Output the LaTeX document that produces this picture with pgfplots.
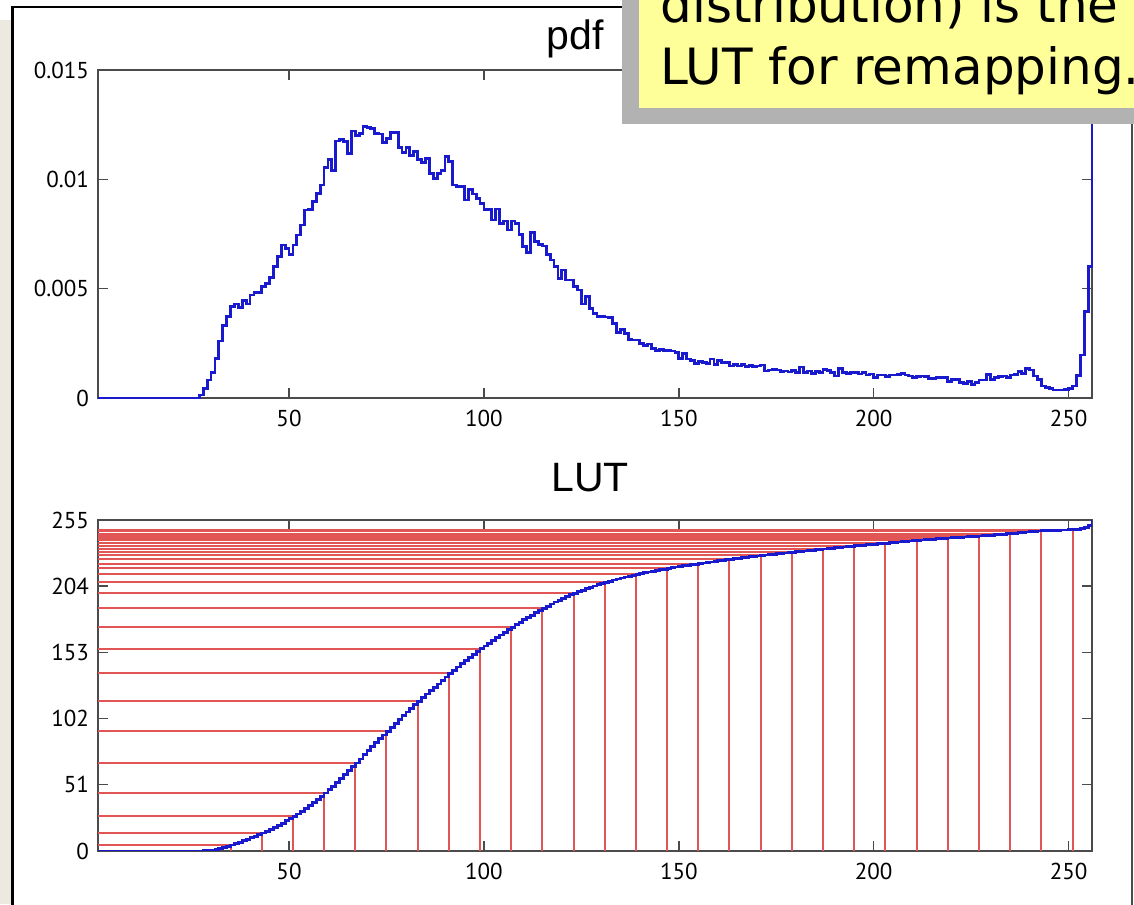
\documentclass[border=0pt]{standalone}
\usepackage{fontspec}
\setmainfont{PT Sans}
\newfontfamily\titlefont{Liberation Sans}
\newfontfamily\callfont{DejaVu Sans}
\newfontfamily\tickfam{PT Sans}
\usepackage{pgfplots}
\pgfplotsset{compat=1.18}
\usepackage{pgfplotstable}
\definecolor{histblue}{RGB}{25,25,205}
\definecolor{lutred}{RGB}{225,85,85}
\definecolor{slidebg}{RGB}{236,233,224}
\definecolor{callyellow}{RGB}{255,255,153}
\definecolor{shadowgray}{RGB}{178,178,178}
\definecolor{axgray}{RGB}{75,75,75}

\pgfplotstableread[row sep=\\]{
x pdf lut\\
1 0 0\\ 2 0 0\\ 3 0 0\\ 4 0 0\\ 5 0 0\\ 6 0 0\\ 7 0 0\\ 8 0 0\\ 9 0 0\\ 10 0 0\\
11 0 0\\ 12 0 0\\ 13 0 0\\ 14 0 0\\ 15 0 0\\ 16 0 0\\ 17 0 0\\ 18 0 0\\ 19 0 0\\ 20 0 0\\
21 0 0\\ 22 0 0\\ 23 0 0\\ 24 0 0\\ 25 0 0\\ 26 0 0\\
27 0.00014 0.04\\ 28 0.00044 0.15\\ 29 0.00082 0.35\\ 30 0.00117 0.65\\
31 0.00181 1.11\\ 32 0.00261 1.76\\ 33 0.00331 2.60\\ 34 0.00372 3.54\\ 35 0.00418 4.60\\
36 0.00430 5.68\\ 37 0.00415 6.73\\ 38 0.00445 7.85\\ 39 0.00430 8.94\\ 40 0.00471 10.13\\
41 0.00483 11.35\\ 42 0.00482 12.56\\ 43 0.00509 13.85\\ 44 0.00524 15.17\\ 45 0.00550 16.56\\
46 0.00600 18.08\\ 47 0.00646 19.71\\ 48 0.00700 21.48\\ 49 0.00684 23.20\\ 50 0.00658 24.86\\
51 0.00700 26.63\\ 52 0.00745 28.51\\ 53 0.00791 30.51\\ 54 0.00860 32.68\\ 55 0.00863 34.86\\
56 0.00898 37.13\\ 57 0.00936 39.49\\ 58 0.00974 41.95\\ 59 0.01055 44.61\\ 60 0.01091 47.37\\
61 0.01039 49.99\\ 62 0.01175 52.96\\ 63 0.01183 55.95\\ 64 0.01173 58.91\\ 65 0.01119 61.73\\
66 0.01221 64.82\\ 67 0.01202 67.85\\ 68 0.01210 70.91\\ 69 0.01240 74.04\\ 70 0.01236 77.16\\
71 0.01233 80.27\\ 72 0.01210 83.33\\ 73 0.01207 86.38\\ 74 0.01167 89.32\\ 75 0.01187 92.32\\
76 0.01215 95.39\\ 77 0.01215 98.45\\ 78 0.01146 101.35\\ 79 0.01123 104.18\\ 80 0.01146 107.08\\
81 0.01108 109.88\\ 82 0.01127 112.72\\ 83 0.01089 115.47\\ 84 0.01077 118.19\\ 85 0.01097 120.96\\
86 0.01027 123.55\\ 87 0.01004 126.09\\ 88 0.01027 128.68\\ 89 0.01039 131.31\\ 90 0.01103 134.09\\
91 0.01081 136.82\\ 92 0.00974 139.28\\ 93 0.00966 141.72\\ 94 0.00969 144.16\\ 95 0.00905 146.45\\
96 0.00954 148.86\\ 97 0.00933 151.21\\ 98 0.00913 153.52\\ 99 0.00890 155.77\\ 100 0.00863 157.95\\
101 0.00863 160.13\\ 102 0.00814 162.18\\ 103 0.00864 164.36\\ 104 0.00799 166.38\\ 105 0.00809 168.42\\
106 0.00768 170.36\\ 107 0.00809 172.40\\ 108 0.00799 174.42\\ 109 0.00748 176.31\\ 110 0.00692 178.06\\
111 0.00664 179.73\\ 112 0.00756 181.64\\ 113 0.00715 183.45\\ 114 0.00703 185.22\\ 115 0.00695 186.98\\
116 0.00658 188.64\\ 117 0.00631 190.23\\ 118 0.00601 191.75\\ 119 0.00547 193.13\\ 120 0.00585 194.61\\
121 0.00540 195.97\\ 122 0.00540 197.34\\ 123 0.00509 198.62\\ 124 0.00494 199.87\\ 125 0.00430 200.95\\
126 0.00463 202.12\\ 127 0.00410 203.16\\ 128 0.00387 204.14\\ 129 0.00372 205.08\\ 130 0.00372 206.02\\
131 0.00370 206.95\\ 132 0.00368 207.88\\ 133 0.00341 208.74\\ 134 0.00299 209.49\\ 135 0.00314 210.29\\
136 0.00296 211.03\\ 137 0.00268 211.71\\ 138 0.00265 212.38\\ 139 0.00265 213.05\\ 140 0.00250 213.68\\
141 0.00239 214.28\\ 142 0.00247 214.91\\ 143 0.00227 215.48\\ 144 0.00219 216.03\\ 145 0.00223 216.60\\
146 0.00216 217.14\\ 147 0.00216 217.69\\ 148 0.00215 218.23\\ 149 0.00209 218.76\\ 150 0.00181 219.22\\
151 0.00204 219.73\\ 152 0.00178 220.18\\ 153 0.00171 220.61\\ 154 0.00159 221.01\\ 155 0.00166 221.43\\
156 0.00162 221.84\\ 157 0.00159 222.24\\ 158 0.00178 222.69\\ 159 0.00154 223.08\\ 160 0.00171 223.51\\
161 0.00162 223.92\\ 162 0.00162 224.33\\ 163 0.00146 224.70\\ 164 0.00154 225.09\\ 165 0.00146 225.46\\
166 0.00154 225.85\\ 167 0.00143 226.21\\ 168 0.00149 226.58\\ 169 0.00143 226.94\\ 170 0.00146 227.31\\
171 0.00151 227.69\\ 172 0.00123 228.00\\ 173 0.00128 228.33\\ 174 0.00131 228.66\\ 175 0.00128 228.98\\
176 0.00120 229.29\\ 177 0.00123 229.60\\ 178 0.00119 229.90\\ 179 0.00125 230.21\\ 180 0.00116 230.50\\
181 0.00142 230.86\\ 182 0.00116 231.16\\ 183 0.00123 231.47\\ 184 0.00113 231.75\\ 185 0.00120 232.06\\
186 0.00116 232.35\\ 187 0.00131 232.68\\ 188 0.00125 232.99\\ 189 0.00117 233.29\\ 190 0.00101 233.54\\
191 0.00134 233.88\\ 192 0.00116 234.18\\ 193 0.00113 234.46\\ 194 0.00116 234.75\\ 195 0.00117 235.05\\
196 0.00110 235.33\\ 197 0.00116 235.62\\ 198 0.00105 235.89\\ 199 0.00110 236.16\\ 200 0.00093 236.40\\
201 0.00105 236.66\\ 202 0.00105 236.93\\ 203 0.00098 237.18\\ 204 0.00105 237.44\\ 205 0.00105 237.71\\
206 0.00108 237.98\\ 207 0.00113 238.26\\ 208 0.00105 238.53\\ 209 0.00101 238.78\\ 210 0.00093 239.02\\
211 0.00098 239.27\\ 212 0.00101 239.52\\ 213 0.00098 239.77\\ 214 0.00090 240.00\\ 215 0.00090 240.22\\
216 0.00092 240.46\\ 217 0.00095 240.70\\ 218 0.00095 240.94\\ 219 0.00075 241.12\\ 220 0.00085 241.34\\
221 0.00085 241.55\\ 222 0.00070 241.73\\ 223 0.00067 241.90\\ 224 0.00075 242.09\\ 225 0.00062 242.25\\
226 0.00070 242.42\\ 227 0.00082 242.63\\ 228 0.00082 242.84\\ 229 0.00108 243.11\\ 230 0.00085 243.32\\
231 0.00095 243.56\\ 232 0.00098 243.81\\ 233 0.00101 244.07\\ 234 0.00095 244.31\\ 235 0.00105 244.57\\
236 0.00108 244.84\\ 237 0.00120 245.15\\ 238 0.00113 245.43\\ 239 0.00136 245.78\\ 240 0.00128 246.10\\
241 0.00101 246.35\\ 242 0.00085 246.57\\ 243 0.00055 246.71\\ 244 0.00049 246.83\\ 245 0.00044 246.94\\
246 0.00037 247.04\\ 247 0.00037 247.13\\ 248 0.00037 247.22\\ 249 0.00040 247.32\\ 250 0.00044 247.43\\
251 0.00055 247.57\\ 252 0.00102 247.83\\ 253 0.00197 248.33\\ 254 0.00395 249.33\\ 255 0.00600 250.84\\
256 0.01650 255\\
}\datatable

\pgfplotstableread[row sep=\\]{
x y\\
35 4.60\\ 43 13.85\\ 51 26.63\\ 59 44.61\\ 67 67.85\\ 75 92.32\\ 83 115.47\\
91 136.82\\ 99 155.77\\ 107 172.40\\ 115 186.98\\ 123 198.62\\ 131 206.95\\ 139 213.05\\
147 217.69\\ 155 221.43\\ 163 224.70\\ 171 227.69\\ 179 230.21\\ 187 232.68\\ 195 235.05\\
203 237.18\\ 211 239.27\\ 219 241.12\\ 227 242.63\\ 235 244.57\\ 243 246.71\\ 251 247.57\\
}\redtable

\newcommand\tf{\tickfam\fontsize{11.5pt}{13pt}\selectfont}
\pgfplotsset{
  matstyle/.style={
    scale only axis,
    width=497pt,
    xmin=1, xmax=256,
    axis line style={draw=axgray, line width=0.7pt},
    every tick/.style={draw=axgray, line width=0.7pt},
    tick align=inside,
    major tick length=5pt,
    xtick={50,100,150,200,250},
    xticklabels={{\tf 50},{\tf 100},{\tf 150},{\tf 200},{\tf 250}},
    xticklabel style={yshift=-2.5pt},
    yticklabel style={xshift=-1pt},
    scaled y ticks=false,
  }
}

\begin{document}
\begin{tikzpicture}
\useasboundingbox (0,0) rectangle (567pt,452pt);
\clip (0,0) rectangle (567pt,452pt);
\fill[white] (0,0) rectangle (567pt,452pt);
\fill[slidebg] (0,0) rectangle (6pt,442pt);
\draw[black, line width=1.3pt] (6.35pt,-2pt) -- (6.35pt,448.5pt) -- (570pt,448.5pt);
\draw[axgray, line width=0.9pt] (566pt,-2pt) -- (566pt,448pt);

\begin{axis}[matstyle, at={(49pt,253pt)}, anchor=south west, height=164pt,
  ymin=0, ymax=0.015, ytick={0,0.005,0.01,0.015},
  yticklabels={{\tf 0},{\tf 0.005},{\tf 0.01},{\tf 0.015}}, clip=false]
\addplot[const plot, histblue, line width=1.4pt] table[x=x, y=pdf] \datatable;
\end{axis}

\begin{axis}[matstyle, at={(49pt,26.5pt)}, anchor=south west, height=165.5pt,
  ymin=0, ymax=255, ytick={0,51,102,153,204,255},
  yticklabels={{\tf 0},{\tf 51},{\tf 102},{\tf 153},{\tf 204},{\tf 255}}]
\addplot[ycomb, lutred, line width=1pt] table[x=x, y=y] \redtable;
\addplot[xcomb, lutred, line width=1pt] table[x=x, y=y] \redtable;
\addplot[const plot, histblue, line width=1.4pt] table[x=x, y=lut] \datatable;
\end{axis}

\node[anchor=base, inner sep=0pt, font=\titlefont\fontsize{20.5pt}{24pt}\selectfont] at (287.5pt,427pt) {pdf};
\node[anchor=base, inner sep=0pt, font=\titlefont\fontsize{20.5pt}{24pt}\selectfont] at (295pt,206pt) {LUT};

\fill[shadowgray] (311pt,390pt) rectangle (570pt,460pt);
\fill[callyellow] (319.5pt,398pt) rectangle (570pt,460pt);
\node[anchor=base west, inner sep=0pt, font=\callfont\fontsize{25pt}{30pt}\selectfont] at (330pt,440.5pt) {distribution) is the};
\node[anchor=base west, inner sep=0pt, font=\callfont\fontsize{25pt}{30pt}\selectfont] at (330pt,409.5pt) {LUT for remapping.};
\end{tikzpicture}
\end{document}
